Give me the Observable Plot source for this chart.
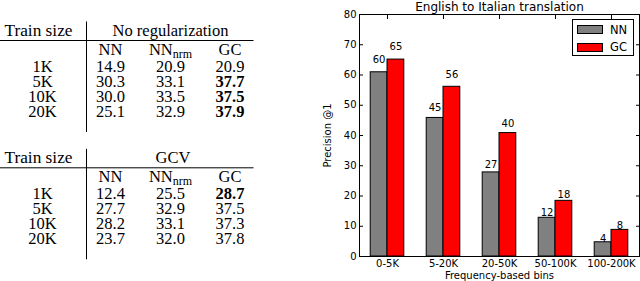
<!DOCTYPE html>
<html><head><meta charset="utf-8">
<script src="https://cdn.jsdelivr.net/npm/d3@7"></script>
<script src="https://cdn.jsdelivr.net/npm/@observablehq/plot@0.6"></script>
<style>
html,body{margin:0;padding:0;background:#fff;}
#root{position:relative;width:640px;height:281px;overflow:hidden;background:#fff;}
#table{position:absolute;left:0;top:0;}
#chart{position:absolute;left:320px;top:0;}
#legend{position:absolute;left:572px;top:19px;width:62px;height:37px;box-sizing:border-box;border:1px solid #000;background:#fff;font-family:'DejaVu Sans',sans-serif;font-size:11.5px;}
.lg-patch{position:absolute;left:4px;width:26px;height:9px;box-sizing:border-box;border:1px solid #000;}
.lg-text{position:absolute;left:37px;line-height:12px;}
</style></head>
<body><div id="root"><svg id="table"></svg><div id="chart"></div><div id="legend"></div></div>
<script>
// ---- table data ----
const trainSizes = ["1K", "5K", "10K", "20K"];
const methods = ["NN", "NN_nrm", "GC"];
const noRegNN = [14.9, 30.3, 30.0, 25.1];
const noRegNNnrm = [20.9, 33.1, 33.5, 32.9];
const noRegGC = [20.9, 37.7, 37.5, 37.9];
const gcvNN = [12.4, 27.7, 28.2, 23.7];
const gcvNNnrm = [25.5, 32.9, 33.1, 32.0];
const gcvGC = [28.7, 37.5, 37.3, 37.8];

// ---- chart data ----
const bins = ["0-5K", "5-20K", "20-50K", "50-100K", "100-200K"];
const nnPrecision = [60.9, 45.8, 27.8, 12.8, 4.7];
const gcPrecision = [65.1, 56.1, 40.8, 18.4, 8.8];
const series = ["NN", "GC"];
const seriesColors = ["#808080", "#ff0000"];
const yTicks = [0, 10, 20, 30, 40, 50, 60, 70, 80];
const chartTitle = "English to Italian translation";
const yLabel = "Precision @1";
const xLabel = "Frequency-based bins";

// ---- table ----
const tables = [
  {head: "No regularization", headX: 170.5, cols: [noRegNN, noRegNNnrm, noRegGC], top: 0},
  {head: "GCV", headX: 173, cols: [gcvNN, gcvNNnrm, gcvGC], top: 127.3}
];
const best = trainSizes.map((_, r) => d3.max(tables.flatMap(t => t.cols.map(c => c[r]))));
const svgT = d3.select("#table").attr("width", 320).attr("height", 281)
  .style("font-family", "'Liberation Serif', serif").style("font-size", "16.5px");
const colX = [42.5, 110.5, 170.5, 230];
const rowY = [72, 87, 101.8, 116.7];
tables.forEach(t => {
  const g = svgT.append("g").attr("transform", `translate(0,${t.top})`);
  g.append("line").attr("x1", 86.5).attr("x2", 86.5).attr("y1", 21.5).attr("y2", 132).attr("stroke", "#000").attr("stroke-width", 1);
  g.append("line").attr("x1", 0).attr("x2", 253.5).attr("y1", 40.5).attr("y2", 40.5).attr("stroke", "#000").attr("stroke-width", 1);
  g.append("text").attr("x", 38.5).attr("y", 35.5).attr("text-anchor", "middle").style("font-size", "17.3px").text("Train size");
  g.append("text").attr("x", t.headX).attr("y", 35.5).attr("text-anchor", "middle").text(t.head);
  methods.forEach((m, j) => {
    const parts = m.split("_");
    const tx = g.append("text").attr("x", colX[j + 1]).attr("y", 54.5).attr("text-anchor", "middle");
    tx.append("tspan").text(parts[0]);
    if (parts[1]) tx.append("tspan").attr("font-size", "12px").attr("dy", 3).text(parts[1]);
  });
  trainSizes.forEach((s, r) => {
    g.append("text").attr("x", colX[0]).attr("y", rowY[r]).attr("text-anchor", "middle").text(s);
    t.cols.forEach((c, j) => {
      g.append("text").attr("x", colX[j + 1]).attr("y", rowY[r]).attr("text-anchor", "middle")
        .attr("font-weight", (j === 2 && c[r] === best[r]) ? "bold" : "normal")
        .text(c[r].toFixed(1));
    });
  });
});

// ---- chart ----
const barWidth = 0.3;
const bars = bins.flatMap((b, i) => [
  {bin: b, series: series[0], value: nnPrecision[i], x1: i - barWidth, x2: i},
  {bin: b, series: series[1], value: gcPrecision[i], x1: i, x2: i + barWidth}
]);
const xTicks = d3.range(bins.length);
const chart = Plot.plot({
  width: 320, height: 281,
  marginLeft: 39, marginRight: 1, marginTop: 14, marginBottom: 25,
  style: {fontFamily: "'DejaVu Sans', sans-serif", fontSize: "10px", color: "#000", background: "#fff", overflow: "visible"},
  x: {type: "linear", domain: [-0.5, 4.5]},
  y: {domain: [0, 80]},
  color: {domain: series, range: seriesColors},
  marks: [
    Plot.axisX({ticks: xTicks, anchor: "bottom", tickSize: 4, dy: -4, tickFormat: () => "", label: null}),
    Plot.rectY(bars, {x1: "x1", x2: "x2", y: "value", fill: "series", stroke: "#000", strokeWidth: 1}),
    Plot.text(bars, {x: d => (d.x1 + d.x2) / 2, y: d => d.value * 1.05, text: d => String(Math.floor(d.value)), lineAnchor: "bottom", fill: "#000", fontSize: 10}),
    Plot.frame({stroke: "#000"}),
    Plot.axisY({ticks: yTicks, anchor: "left", tickSize: 0, tickPadding: 3, label: null}),
    Plot.axisY({ticks: yTicks, anchor: "left", tickSize: 4, dx: 4, tickFormat: () => "", label: null}),
    Plot.axisY({ticks: yTicks, anchor: "right", tickSize: 4, dx: -4, tickFormat: () => "", label: null}),
    Plot.axisX({ticks: xTicks, anchor: "bottom", tickSize: 0, tickPadding: 3, tickFormat: i => bins[i], label: null}),
    Plot.axisX({ticks: xTicks, anchor: "top", tickSize: 4, dy: 4, tickFormat: () => "", label: null}),
    Plot.text([chartTitle], {frameAnchor: "top", dy: -4, lineAnchor: "bottom", textAnchor: "middle", fontSize: 12, fill: "#000"}),
    Plot.text([yLabel], {frameAnchor: "left", rotate: -90, dx: -32, lineAnchor: "middle", textAnchor: "middle", fontSize: 10, fill: "#000"}),
    Plot.text([xLabel], {frameAnchor: "bottom", dy: 19, lineAnchor: "middle", textAnchor: "middle", fontSize: 10, fill: "#000"})
  ]
});
document.getElementById("chart").appendChild(chart);

// ---- legend ----
const legend = d3.select("#legend");
series.forEach((s, k) => {
  legend.append("div").attr("class", "lg-patch").style("top", (5 + k * 17.5) + "px").style("background", seriesColors[k]);
  legend.append("div").attr("class", "lg-text").style("top", (3.5 + k * 17.5) + "px").text(s);
});
</script>
</body></html>
